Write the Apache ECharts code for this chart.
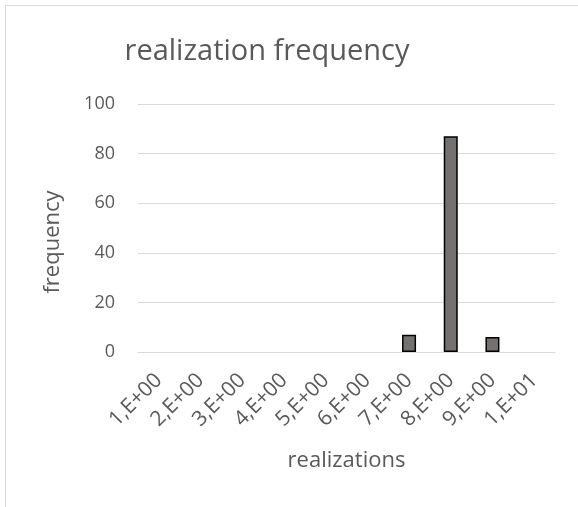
<!DOCTYPE html>
<html>
<head>
<meta charset="utf-8">
<script src="https://cdn.jsdelivr.net/npm/echarts@6/dist/echarts.min.js"></script>
<style>
  html, body { margin: 0; padding: 0; background: #fff; }
  #chart { width: 578px; height: 507px; }
</style>
</head>
<body>
<div id="chart"></div>
<script>
// Realization bins and how often each one occurred
const categories = ['1,E+00', '2,E+00', '3,E+00', '4,E+00', '5,E+00', '6,E+00', '7,E+00', '8,E+00', '9,E+00', '1,E+01'];
const frequency = [0, 0, 0, 0, 0, 0, 7, 87, 6, 0];
const yTicks = { min: 0, max: 100, interval: 20 };

const textColor = '#595959';
const lineColor = '#d9d9d9';
const font = '"Open Sans", "Noto Sans", sans-serif';

// empty bins get no outline, so they stay invisible on the baseline
const barData = frequency.map(v => ({
  value: v,
  itemStyle: v === 0 ? { borderWidth: 0 } : {}
}));

const chart = echarts.init(document.getElementById('chart'), null, { renderer: 'canvas' });
chart.setOption({
  backgroundColor: '#fff',
  animation: false,
  title: {
    text: 'realization frequency',
    left: 262,
    top: 32,
    textAlign: 'center',
    textStyle: { color: textColor, fontSize: 29, fontWeight: 'normal', fontFamily: font }
  },
  grid: { left: 138, right: 23, top: 104, bottom: 155, containLabel: false },
  xAxis: {
    type: 'category',
    data: categories,
    name: 'realizations',
    nameLocation: 'middle',
    nameGap: 98,
    nameTextStyle: { color: textColor, fontSize: 22, fontFamily: font },
    axisLine: { show: true, lineStyle: { color: lineColor, width: 1 } },
    axisTick: { show: false },
    axisLabel: { rotate: 45, color: textColor, fontSize: 21, fontFamily: font, margin: 25, interval: 0 }
  },
  yAxis: {
    type: 'value',
    min: yTicks.min,
    max: yTicks.max,
    interval: yTicks.interval,
    name: 'frequency',
    nameLocation: 'middle',
    nameGap: 74,
    nameTextStyle: { color: textColor, fontSize: 22, fontFamily: font, padding: [0, 0, 0, -28] },
    axisLine: { show: false },
    axisTick: { show: false },
    axisLabel: { color: textColor, fontSize: 18, fontFamily: font, margin: 23 },
    splitLine: { lineStyle: { color: lineColor, width: 1 } }
  },
  series: [{
    type: 'bar',
    data: barData,
    barWidth: 14,
    itemStyle: { color: '#767171', borderColor: '#000', borderWidth: 1.5 }
  }],
  graphic: [
    { type: 'line', shape: { x1: 5, y1: 5.5, x2: 578, y2: 5.5 }, style: { stroke: lineColor, lineWidth: 1 } },
    { type: 'line', shape: { x1: 5.5, y1: 5, x2: 5.5, y2: 507 }, style: { stroke: lineColor, lineWidth: 1 } }
  ]
});
</script>
</body>
</html>
